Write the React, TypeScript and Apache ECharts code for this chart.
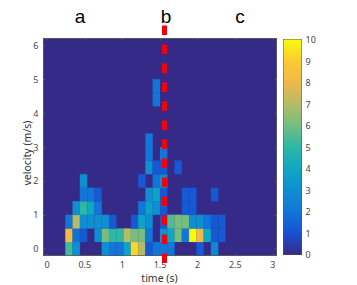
import React, { useEffect, useRef } from "react";
import * as echarts from "echarts";

const xTicks = [0, 0.5, 1, 1.5, 2, 2.5, 3];
const yTicks = [0, 1, 2, 3, 4, 5, 6];
const barTicks = [0, 1, 2, 3, 4, 5, 6, 7, 8, 9, 10];
const letters = [
  { t: "a", x: 80 },
  { t: "b", x: 166 },
  { t: "c", x: 240 },
];
const parula = ["#352a87", "#1752d2", "#1276d9", "#0e8fd1", "#0ea8c2", "#2eb7a4", "#76bd80", "#b5bc65", "#f0b74a", "#fccb30", "#f9fb0e"];

// rows bottom to top, 0.4 m/s apart; only rows holding something are listed; columns 3/31 s apart
const row00 = [0, 0, 0, 5.3, 3, 0, 0, 0, 3, 2, 2, 3.8, 9.2, 7, 1.2, 2, 2, 2, 0, 0, 0, 1.2, 0, 2.7];
const row04 = [0, 0, 0, 8.2, 1.8, 1.2, 0, 3, 6, 5, 5, 7, 6, 6, 2, 0, 3, 4, 6, 2, 10, 8.2, 4, 1.2, 1.2];
const row08 = [0, 0, 0, 2, 7, 3, 3, 3, 3, 1.2, 0, 0, 1.2, 3.8, 3, 0, 1.2, 5.5, 6, 6, 3, 3, 2, 1.2, 1.2];
const row12 = [0, 0, 0, 0, 3, 5, 4, 2, 0, 0, 0, 0, 0, 2, 3.8, 3, 1.2, 0, 0, 1.2, 1.2];
const row16 = [0, 0, 0, 0, 0, 2, 2, 1.2, 0, 0, 0, 0, 0, 0, 3, 3.8, 1.2, 0, 0, 1.2, 1.2, 0, 0, 1.2];
const row20 = [0, 0, 0, 0, 0, 3, 0, 0, 0, 0, 0, 0, 0, 1.2, 0, 2, 3];
const row24 = [0, 0, 0, 0, 0, 0, 0, 0, 0, 0, 0, 0, 0, 0, 3, 1.2, 1.2, 0, 1.2];
const row28 = [0, 0, 0, 0, 0, 0, 0, 0, 0, 0, 0, 0, 0, 0, 2, 0, 2];
const row32 = [0, 0, 0, 0, 0, 0, 0, 0, 0, 0, 0, 0, 0, 0, 2];
const row44 = [0, 0, 0, 0, 0, 0, 0, 0, 0, 0, 0, 0, 0, 0, 0, 2];
const row48 = [0, 0, 0, 0, 0, 0, 0, 0, 0, 0, 0, 0, 0, 0, 0, 2];
const rows: [number, number[]][] = [
  [0, row00], [0.4, row04], [0.8, row08], [1.2, row12], [1.6, row16], [2.0, row20],
  [2.4, row24], [2.8, row28], [3.2, row32], [4.4, row44], [4.8, row48],
];
const dt = 3 / 31;
const dv = 0.4;
const markerTime = 1.56;
const markerSpan = [-0.42, 6.58];

function hex(c: string) {
  return [1, 3, 5].map((i) => parseInt(c.slice(i, i + 2), 16));
}
function colorOf(v: number) {
  const p = (Math.min(10, Math.max(0, v)) / 10) * (parula.length - 1);
  const i = Math.min(parula.length - 2, Math.floor(p));
  const a = hex(parula[i]);
  const b = hex(parula[i + 1]);
  const f = p - i;
  return `rgb(${a.map((x, k) => Math.round(x + (b[k] - x) * f)).join(",")})`;
}

const cells: number[][] = [];
rows.forEach(([v, vals]) => vals.forEach((z, i) => { if (z > 0) cells.push([i * dt, v, z]); }));

const textColor = "#484848";
const font = "Noto Sans";
const lineStyle = { color: "#555", width: 1 };

export default function App() {
  const ref = useRef<HTMLDivElement>(null);
  useEffect(() => {
    const chart = echarts.init(ref.current!, undefined, { renderer: "svg" });
    const common = { type: "value" as const, splitLine: { show: false } };
    const xScale = { min: -dt / 2, max: 3 + dt / 2 };
    const yScale = { min: -dv / 2, max: 6 + dv / 2 };
    chart.setOption({
      animation: false,
      backgroundColor: "#fff",
      grid: [
        { left: 43.5, top: 38.5, width: 233, height: 217, show: true, backgroundColor: parula[0], borderWidth: 0, outerBoundsMode: "none" },
        { left: 283.5, top: 39.5, width: 18, height: 215, show: false, outerBoundsMode: "none" },
      ],
      xAxis: [
        {
          ...common, ...xScale, gridIndex: 0, position: "bottom",
          axisLine: { show: true, onZero: false, lineStyle },
          axisTick: { show: true, inside: true, length: 2, customValues: xTicks, lineStyle },
          axisLabel: { show: true, customValues: xTicks, fontFamily: font, fontSize: 9, color: textColor, margin: 4, formatter: (v: number) => String(v) },
        },
        {
          ...common, ...xScale, gridIndex: 0, position: "top",
          axisLine: { show: true, onZero: false, lineStyle },
          axisTick: { show: true, inside: true, length: 2, customValues: xTicks, lineStyle },
          axisLabel: { show: false },
        },
        { ...common, min: 0, max: 1, gridIndex: 1, position: "bottom", axisLine: { show: true, onZero: false, lineStyle }, axisTick: { show: false }, axisLabel: { show: false } },
        { ...common, min: 0, max: 1, gridIndex: 1, position: "top", axisLine: { show: true, onZero: false, lineStyle }, axisTick: { show: false }, axisLabel: { show: false } },
      ],
      yAxis: [
        {
          ...common, ...yScale, gridIndex: 0, position: "left",
          axisLine: { show: true, onZero: false, lineStyle },
          axisTick: { show: true, inside: true, length: 2, customValues: yTicks, lineStyle },
          axisLabel: { show: true, customValues: yTicks, fontFamily: font, fontSize: 9, color: textColor, margin: 5, formatter: (v: number) => String(v) },
        },
        {
          ...common, ...yScale, gridIndex: 0, position: "right",
          axisLine: { show: true, onZero: false, lineStyle },
          axisTick: { show: true, inside: true, length: 2, customValues: yTicks, lineStyle },
          axisLabel: { show: false },
        },
        {
          ...common, min: 0, max: 10, gridIndex: 1, position: "right",
          axisLine: { show: true, onZero: false, lineStyle },
          axisTick: { show: true, inside: true, length: 2, customValues: barTicks, lineStyle },
          axisLabel: { show: true, customValues: barTicks, fontFamily: font, fontSize: 9, color: textColor, margin: 4, formatter: (v: number) => String(v) },
        },
        {
          ...common, min: 0, max: 10, gridIndex: 1, position: "left",
          axisLine: { show: true, onZero: false, lineStyle }, axisTick: { show: false }, axisLabel: { show: false },
        },
      ],
      series: [
        {
          type: "custom", xAxisIndex: 0, yAxisIndex: 0, data: cells, clip: true, silent: true,
          renderItem: (_: any, api: any) => {
            const t = api.value(0), v = api.value(1), z = api.value(2);
            const a = api.coord([t - dt / 2, v + dv / 2]);
            const b = api.coord([t + dt / 2, v - dv / 2]);
            const fill = colorOf(z);
            return { type: "rect", shape: { x: a[0], y: a[1], width: b[0] - a[0], height: b[1] - a[1] }, style: { fill, stroke: fill, lineWidth: 0.2 } };
          },
        },
        {
          type: "custom", xAxisIndex: 0, yAxisIndex: 0, data: [[markerTime, markerSpan[0], markerSpan[1]]], clip: false, silent: true, z: 10,
          renderItem: (_: any, api: any) => {
            const a = api.coord([api.value(0), api.value(2)]);
            const b = api.coord([api.value(0), api.value(1)]);
            return { type: "line", shape: { x1: a[0], y1: a[1], x2: b[0], y2: b[1] }, style: { stroke: "#f4000c", lineWidth: 5, lineDash: [9.5, 9.5], fill: "none" } };
          },
        },
        {
          type: "custom", xAxisIndex: 2, yAxisIndex: 2, data: [[0, 0, 1, 10]], silent: true,
          renderItem: (_: any, api: any) => {
            const a = api.coord([api.value(0), api.value(3)]);
            const b = api.coord([api.value(2), api.value(1)]);
            const colorStops = parula.map((c, i) => ({ offset: i / (parula.length - 1), color: parula[parula.length - 1 - i] }));
            return {
              type: "rect",
              shape: { x: a[0], y: a[1], width: b[0] - a[0], height: b[1] - a[1] },
              style: { fill: new echarts.graphic.LinearGradient(0, 0, 0, 1, colorStops) },
            };
          },
        },
      ],
      graphic: [
        ...letters.map((l) => ({
          type: "text", x: l.x, y: 16,
          style: { text: l.t, fontFamily: "Liberation Sans", fontSize: 19, fill: "#000", align: "center", verticalAlign: "middle" },
        })),
        {
          type: "text", x: 159.5, y: 278,
          style: { text: "time (s)", fontFamily: font, fontSize: 10.5, fill: "#333", align: "center", verticalAlign: "middle" },
        },
        {
          type: "text", x: 27, y: 153, rotation: Math.PI / 2,
          style: { text: "velocity (m/s)", fontFamily: font, fontSize: 10.5, fill: "#333", align: "center", verticalAlign: "middle" },
        },
      ],
    });
    return () => chart.dispose();
  }, []);
  return <div ref={ref} style={{ position: "fixed", left: 0, top: 0, width: 357, height: 285 }} />;
}
